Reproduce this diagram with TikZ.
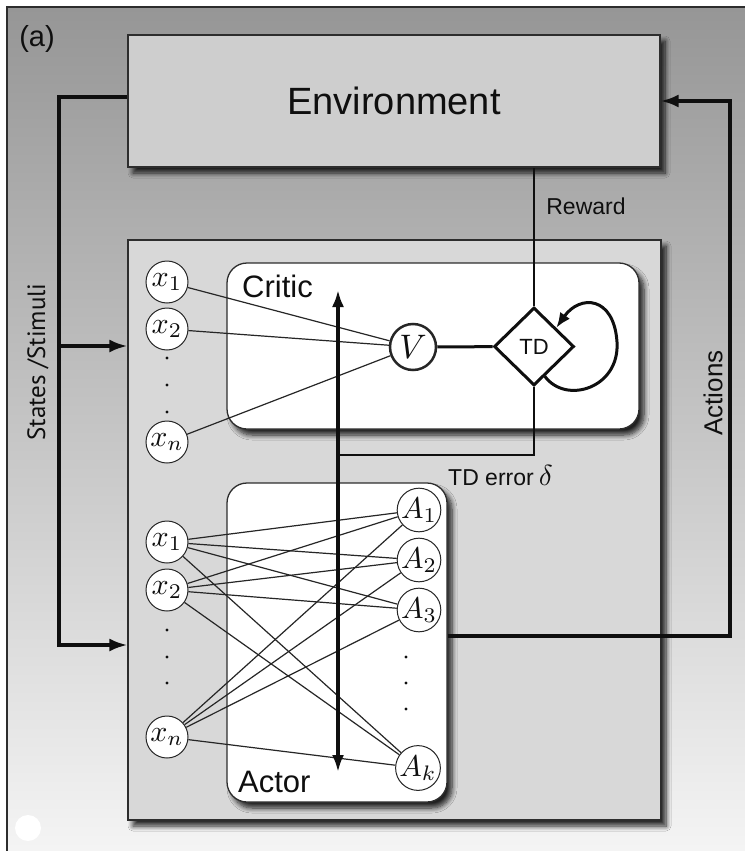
\documentclass[tikz,border=0pt]{standalone}
\usepackage{fontspec}
\setmainfont{Liberation Sans}
\newfontfamily\stimfont{PT Sans}
\usetikzlibrary{arrows.meta,shapes.geometric,shadows.blur}

\definecolor{bgtop}{RGB}{150,150,150}
\definecolor{bgbot}{RGB}{245,245,245}
\definecolor{envfill}{RGB}{206,206,206}
\definecolor{mainfill}{RGB}{216,216,216}
\definecolor{edge}{RGB}{45,45,45}
\definecolor{ink}{RGB}{15,15,15}

% math set at 10pt and scaled up, so it keeps its shape at any size
\newcommand{\unitmath}[2][3.0]{{\fontsize{10}{10}\selectfont\scalebox{#1}{$#2$}}}

\tikzset{
  panel/.style={draw=edge, line width=1.3pt, inner sep=0pt,
    blur shadow={shadow xshift=5pt, shadow yshift=-6pt, shadow blur steps=8,
      shadow blur radius=5pt, shadow opacity=85}},
  layerbox/.style={panel, fill=white, rounded corners=20pt},
  unit/.style={circle, draw=black!85, fill=white, line width=1pt, minimum size=42pt,
    inner sep=0pt, text=ink},
  thinlink/.style={line width=1.2pt, black!85},
  flow/.style={line width=3.2pt, ink},
  tip/.style={-{Latex[length=18pt,width=13pt]}},
  dbltip/.style={{Latex[length=17pt,width=12pt]}-{Latex[length=17pt,width=12pt]}},
  lbl/.style={text=ink, inner sep=0pt},
}

\begin{document}
\begin{tikzpicture}[x=1pt,y=-1pt]
\useasboundingbox (0,0) rectangle (744,851);

% graded backdrop with its frame
\shade[top color=bgtop, bottom color=bgbot] (7,7) rectangle (752,858);
\draw[edge, line width=1.3pt] (7,858) -- (7,7) -- (752,7);
\fill[white] (28,828) circle (13);

\node[lbl, font=\fontsize{29}{30}\selectfont] (tag) at (37,39) {(a)};

% main boxes
\node[panel, fill=envfill, minimum width=532pt, minimum height=132pt,
      font=\fontsize{38}{40}\selectfont, text=ink] (env) at (394,101) {Environment};
\node[panel, fill=mainfill, minimum width=533pt, minimum height=580pt] (main) at (394.5,530) {};
\node[layerbox, minimum width=412pt, minimum height=166pt] (critic) at (433,346) {};
\node[layerbox, minimum width=220pt, minimum height=319pt] (actor) at (337,642.5) {};

\node[lbl, anchor=west, font=\fontsize{31}{32}\selectfont] (criticlbl) at (242,286) {Critic};
\node[lbl, anchor=west, font=\fontsize{31}{32}\selectfont] (actorlbl) at (238,782) {Actor};

% critic units
\node[unit] (cx1) at (167,282) {\unitmath{x_1}};
\node[unit] (cx2) at (167,329) {\unitmath{x_2}};
\node[unit] (cxn) at (167,442) {\unitmath{x_n}};
\foreach \yy in {358,385,412} \fill[ink] (167,\yy) circle (1.7);
\node[unit, line width=2.5pt, minimum size=46pt] (V) at (413,347) {\unitmath[3.4]{V}};
\node[diamond, draw=ink, fill=white, line width=3pt, minimum width=80pt, minimum height=78pt,
      inner sep=0pt, font=\fontsize{22}{22}\selectfont, text=ink] (TD) at (534,346.5) {TD};

\foreach \s in {cx1,cx2,cxn} \draw[thinlink] (\s) -- (V);

% actor units
\node[unit] (ax1) at (167,542) {\unitmath{x_1}};
\node[unit] (ax2) at (167,590) {\unitmath{x_2}};
\node[unit] (axn) at (167,737) {\unitmath{x_n}};
\foreach \yy in {630,657,683} \fill[ink] (167,\yy) circle (1.7);
\node[unit] (A1) at (419,510) {\unitmath{A_1}};
\node[unit] (A2) at (419,560) {\unitmath{A_2}};
\node[unit] (A3) at (419,610) {\unitmath{A_3}};
\node[unit] (Ak) at (418,768) {\unitmath{A_k}};
\foreach \yy in {657,683,709} \fill[ink] (406,\yy) circle (1.7);

\foreach \s in {ax1,ax2,axn}
  \foreach \t in {A1,A2,A3,Ak}
    \draw[thinlink] (\s) -- (\t);

% critic internals
\draw[flow, line width=3pt] (V) -- (TD);
\draw[flow, line width=3pt, -{Latex[length=15pt,width=12pt]}]
  (TD.-70) .. controls (566,405) and (620,388) .. (617,342)
           .. controls (614,296) and (580,294) .. (TD.40);
\draw[ink, line width=1.8pt] (TD.north) -- (TD.north |- env.south);
\node[lbl, font=\fontsize{23}{24}\selectfont] (rewardlbl) at (586,206) {Reward};

% TD error broadcast
\coordinate (vtop) at (338,290);
\coordinate (vbot) at (338,772);
\coordinate (tdjoin) at (338,455);
\draw[ink, line width=2.6pt] (TD.south) |- (tdjoin);
\draw[flow, dbltip] (vtop) -- (vbot);
\node[lbl, anchor=west, font=\fontsize{23}{24}\selectfont] (tderr) at (448,476)
  {TD error\hspace{5pt}\unitmath[2.9]{\delta}};

% states / stimuli feed
\coordinate (sbend) at (59,645);
\coordinate (sjoin) at (59,346);
\draw[flow, tip] ([yshift=4pt]env.west) -| (sbend) -- (sbend -| main.west);
\draw[flow, tip] (sjoin) -- (sjoin -| main.west);
\node[lbl, rotate=90, font=\stimfont\fontsize{25}{25}\selectfont] (stimlbl) at (38,362) {States /Stimuli};

% actions feed back
\coordinate (acorner) at (730,636);
\draw[flow, tip] (acorner -| actor.east) -- (acorner) |- (env.east);
\node[lbl, rotate=90, font=\fontsize{26}{26}\selectfont] (actlbl) at (713,393) {Actions};
\end{tikzpicture}
\end{document}
